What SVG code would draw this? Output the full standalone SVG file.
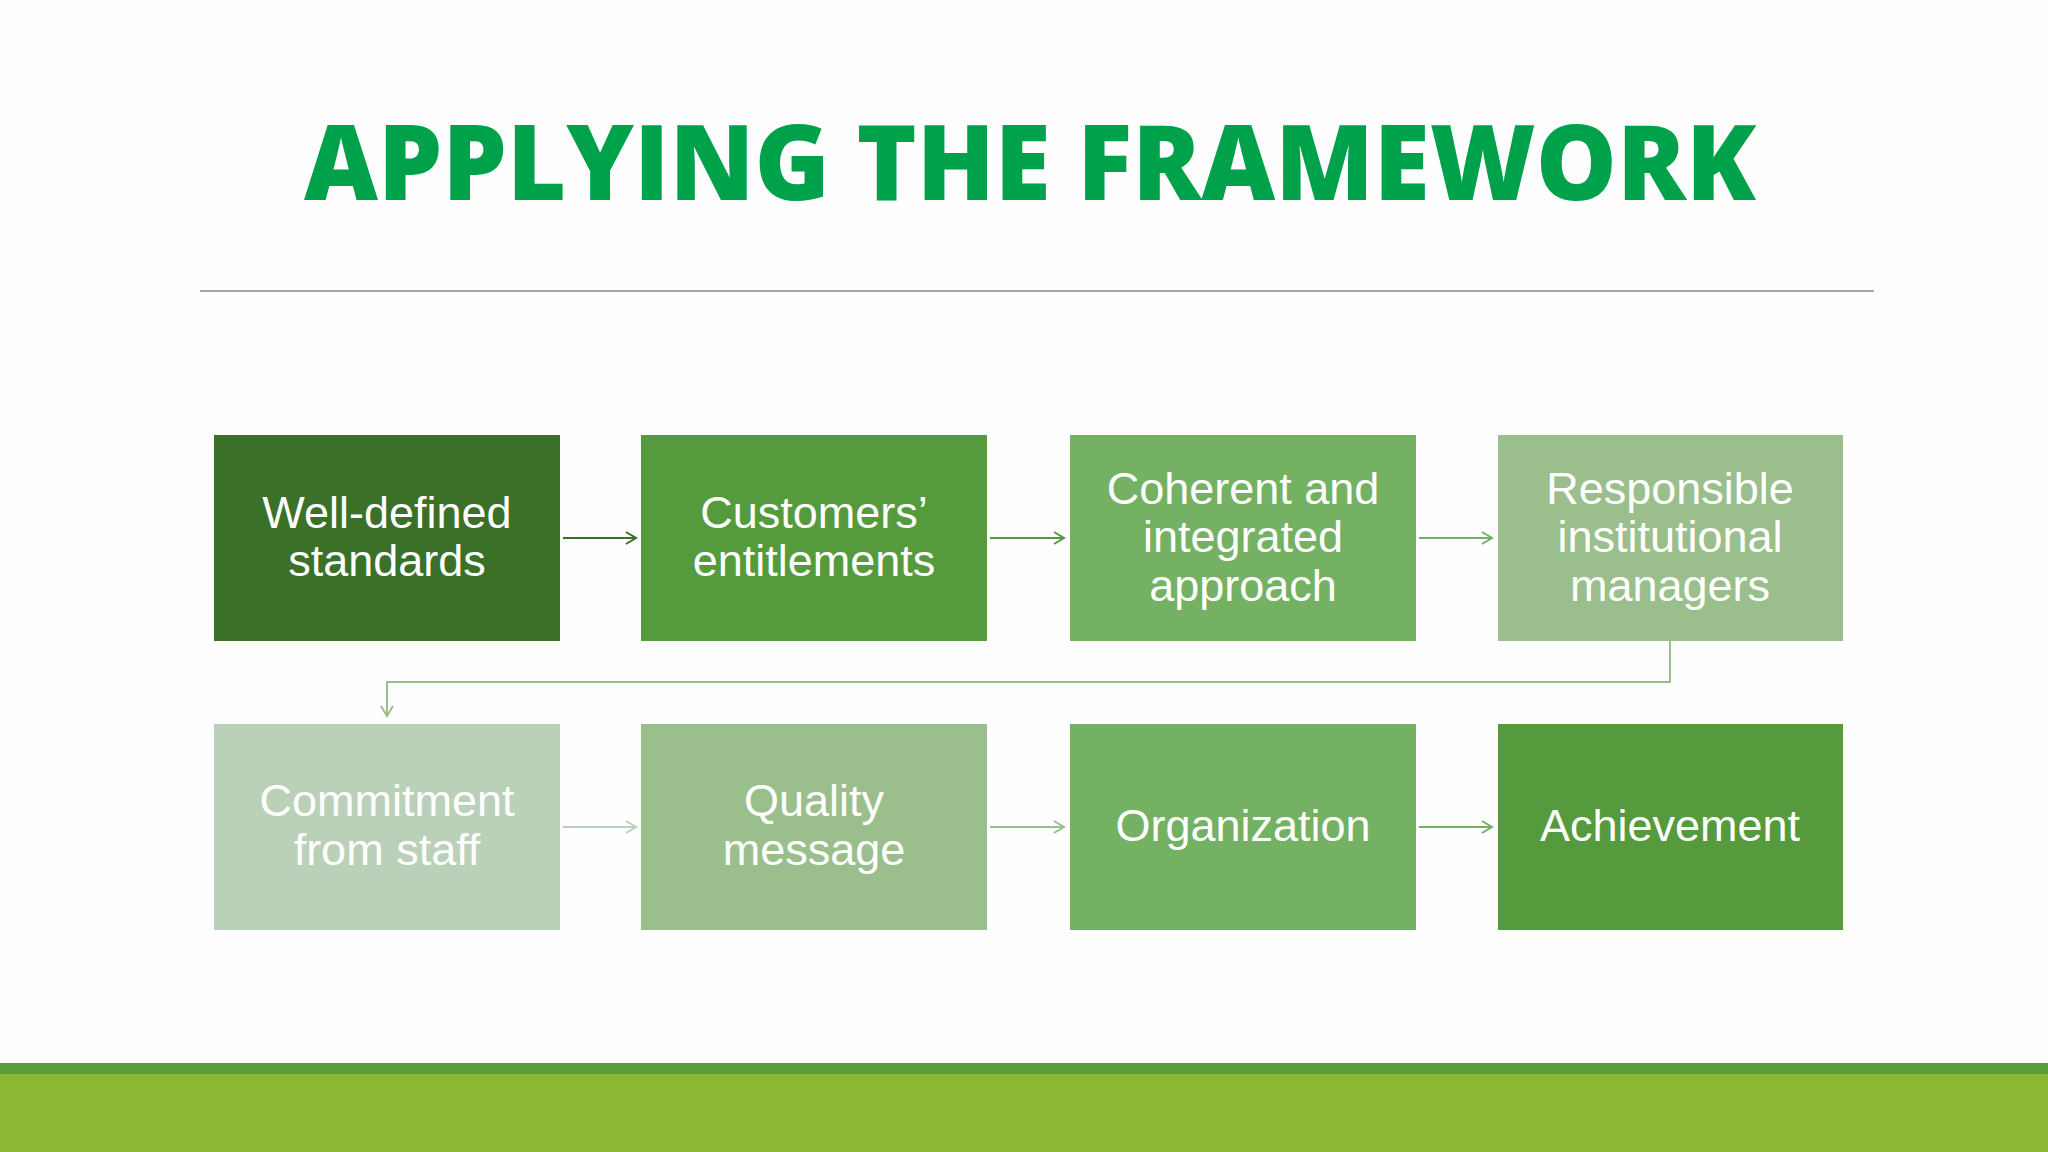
<svg xmlns="http://www.w3.org/2000/svg" width="2048" height="1152" viewBox="0 0 2048 1152">
<defs>
<marker id="ah" markerWidth="14" markerHeight="14" refX="12" refY="7" orient="auto" markerUnits="userSpaceOnUse">
<path d="M2,1 L12,7 L2,13" fill="none" stroke="context-stroke" stroke-width="2"/>
</marker>
</defs>
<style>
.t{font-family:"Liberation Sans",Arial,sans-serif;font-size:45px;fill:#fff;text-anchor:middle}
.c{fill:none;stroke-width:2;marker-end:url(#ah)}
</style>
<rect width="2048" height="1152" fill="#fefefe"/>
<text x="1030" y="200" font-family="'Open Sans','Liberation Sans',sans-serif" font-weight="800" font-size="104" fill="#00a14b" text-anchor="middle" textLength="1452" lengthAdjust="spacingAndGlyphs">APPLYING THE FRAMEWORK</text>
<line x1="200" y1="291" x2="1874" y2="291" stroke="#a6a6a6" stroke-width="2"/>
<g id="n1"><rect x="214" y="435" width="346" height="206" fill="#3b7029"/><text class="t"><tspan x="387" y="528">Well-defined</tspan><tspan x="387" y="576">standards</tspan></text></g>
<g id="n2"><rect x="641" y="435" width="346" height="206" fill="#569a3e"/><text class="t"><tspan x="814" y="528">Customers’</tspan><tspan x="814" y="576">entitlements</tspan></text></g>
<g id="n3"><rect x="1070" y="435" width="346" height="206" fill="#74b163"/><text class="t"><tspan x="1243" y="504">Coherent and</tspan><tspan x="1243" y="552">integrated</tspan><tspan x="1243" y="601">approach</tspan></text></g>
<g id="n4"><rect x="1498" y="435" width="345" height="206" fill="#9bbf8c"/><text class="t"><tspan x="1670" y="504">Responsible</tspan><tspan x="1670" y="552">institutional</tspan><tspan x="1670" y="601">managers</tspan></text></g>
<g id="n5"><rect x="214" y="724" width="346" height="206" fill="#bbd0b8"/><text class="t"><tspan x="387" y="816">Commitment</tspan><tspan x="387" y="865">from staff</tspan></text></g>
<g id="n6"><rect x="641" y="724" width="346" height="206" fill="#9bbf8c"/><text class="t"><tspan x="814" y="816">Quality</tspan><tspan x="814" y="865">message</tspan></text></g>
<g id="n7"><rect x="1070" y="724" width="346" height="206" fill="#74b163"/><text class="t" x="1243" y="841">Organization</text></g>
<g id="n8"><rect x="1498" y="724" width="345" height="206" fill="#569a3e"/><text class="t" x="1670" y="841">Achievement</text></g>
<g id="connectors">
<line class="c" x1="563" y1="538" x2="636" y2="538" stroke="#3b7029"/>
<line class="c" x1="990" y1="538" x2="1064" y2="538" stroke="#569a3e"/>
<line class="c" x1="1419" y1="538" x2="1492" y2="538" stroke="#74b163"/>
<path class="c" d="M1670,641 V682 H387 V716" stroke="#9bbf8c"/>
<line class="c" x1="563" y1="827" x2="636" y2="827" stroke="#bbd0b8"/>
<line class="c" x1="990" y1="827" x2="1064" y2="827" stroke="#9bbf8c"/>
<line class="c" x1="1419" y1="827" x2="1492" y2="827" stroke="#74b163"/>
</g>
<rect x="0" y="1063" width="2048" height="11" fill="#5a9e3a"/>
<rect x="0" y="1074" width="2048" height="78" fill="#8ab833"/>
</svg>
